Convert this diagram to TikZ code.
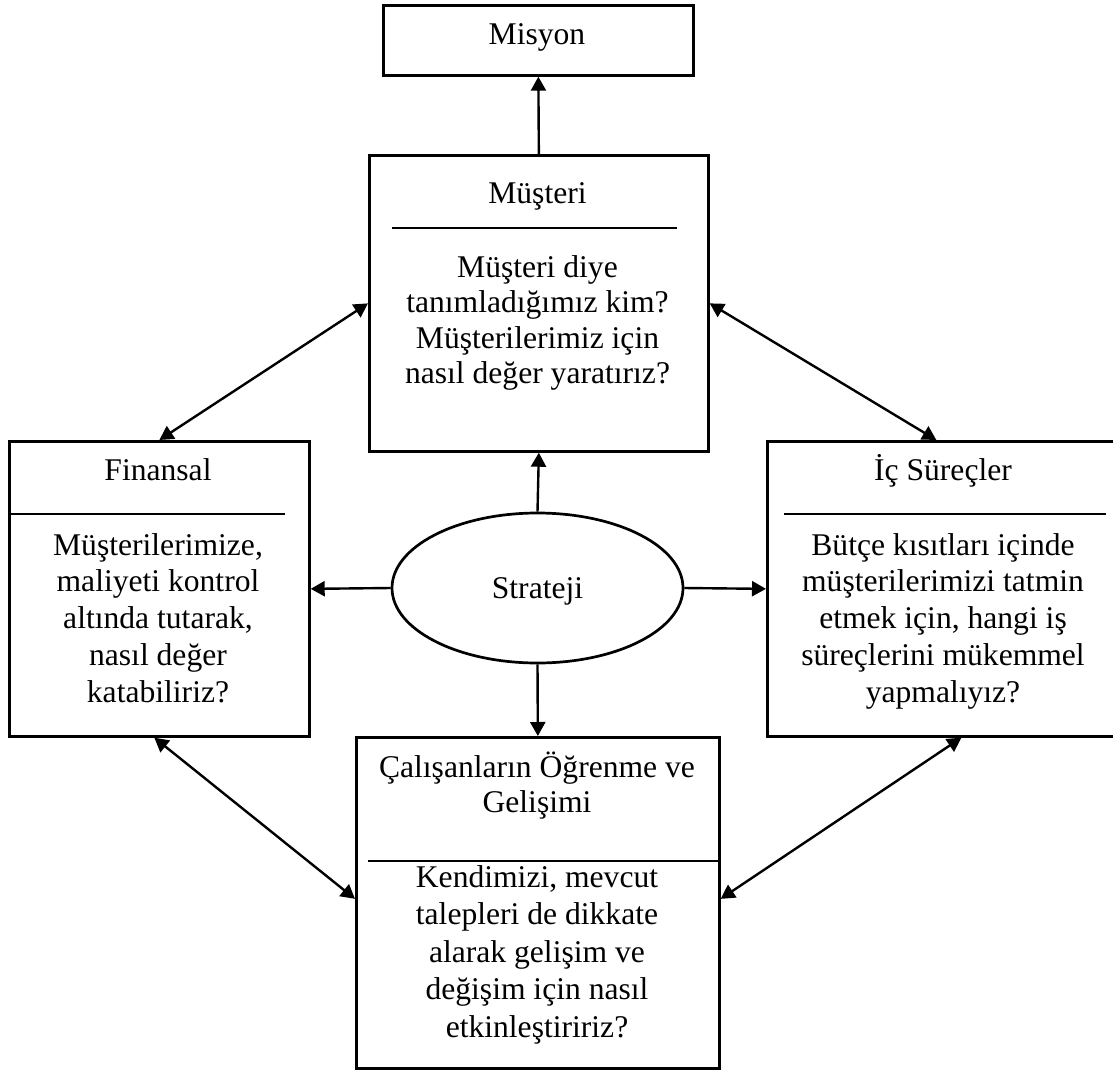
\documentclass[tikz,border=0pt]{standalone}
\usepackage{fontspec}
\setmainfont{Liberation Serif}
\usetikzlibrary{arrows.meta,shapes.geometric,calc}
\tikzset{
  box/.style={draw, line width=2.7pt, inner sep=0pt, anchor=north west},
  oval/.style={draw, ellipse, line width=2.7pt, inner sep=0pt, minimum width=291pt, minimum height=150pt},
  txt/.style={align=center, inner sep=0pt, anchor=base, font=\fontsize{31.6}{36}\selectfont},
  sepline/.style={line width=2.7pt},
  arr/.style={line width=2.4pt, -{Triangle[length=14pt,width=15pt]}},
  darr/.style={line width=2.4pt, {Triangle[length=14pt,width=15pt]}-{Triangle[length=14pt,width=15pt]}},
}
\begin{document}
\begin{tikzpicture}[x=1pt,y=-1pt]
\clip (0,0) rectangle (1113,1073);
\fill[white] (0,0) rectangle (1113,1073);

% boxes
\node[box, minimum width=310pt, minimum height=70pt] (mis) at (382,4) {};
\node[box, minimum width=339pt, minimum height=296pt] (mus) at (368,154) {};
\node[box, minimum width=300pt, minimum height=295pt] (fin) at (8,440) {};
\node[box, minimum width=354pt, minimum height=295pt] (isc) at (766,440) {};
\node[box, minimum width=363pt, minimum height=331pt] (cal) at (355,736) {};
\node[oval] (str) at (537.5,588) {};

% separators
\draw[sepline] (392,228) -- (677,228);
\draw[sepline] (8,514) -- (285,514);
\draw[sepline] (784,514) -- (1106,514);
\draw[sepline] (368,861) -- (718,861);

% texts (base anchor = baseline of the last line)
\node[txt] (tmis) at (537,45) {Misyon};
\node[txt] (tmus) at (537.5,203) {Müşteri};
\node[txt, font=\fontsize{31.6}{35.5}\selectfont] (bmus) at (537.5,383.5)
  {Müşteri diye\\tanımladığımız kim?\\Müşterilerimiz için\\nasıl değer yaratırız?};
\node[txt] (tfin) at (158,480) {Finansal};
\node[txt, font=\fontsize{31.6}{36.7}\selectfont] (bfin) at (158,702)
  {Müşterilerimize,\\maliyeti kontrol\\altında tutarak,\\nasıl değer\\katabiliriz?};
\node[txt] (tisc) at (943,480) {İç Süreçler};
\node[txt, font=\fontsize{31.6}{36.7}\selectfont] (bisc) at (943,702)
  {Bütçe kısıtları içinde\\müşterilerimizi tatmin\\etmek için, hangi iş\\süreçlerini mükemmel\\yapmalıyız?};
\node[txt, font=\fontsize{31.6}{35}\selectfont] (tcal) at (537,812)
  {Çalışanların Öğrenme ve\\Gelişimi};
\node[txt, font=\fontsize{31.6}{37.5}\selectfont] (bcal) at (537,1037)
  {Kendimizi, mevcut\\talepleri de dikkate\\alarak gelişim ve\\değişim için nasıl\\etkinleştiririz?};
\node[txt] (tstr) at (537.5,598) {Strateji};

% connectors
\draw[arr] (mus.north) -- (mis.south);
\draw[arr] (str.north) -- (mus.south);
\draw[arr] (str.east) -- (isc.west);
\draw[arr] (str.west) -- (fin.east);
\draw[arr] (str.south) -- (cal.north);
\draw[darr] (mus.west) -- (fin.north);
\draw[darr] (mus.east) -- ([xshift=-8pt]isc.north);
\draw[darr] ([xshift=-5pt]fin.south) -- ([yshift=4pt]cal.west);
\draw[darr] ([xshift=17pt]isc.south) -- ([yshift=4pt]cal.east);
\end{tikzpicture}
\end{document}
